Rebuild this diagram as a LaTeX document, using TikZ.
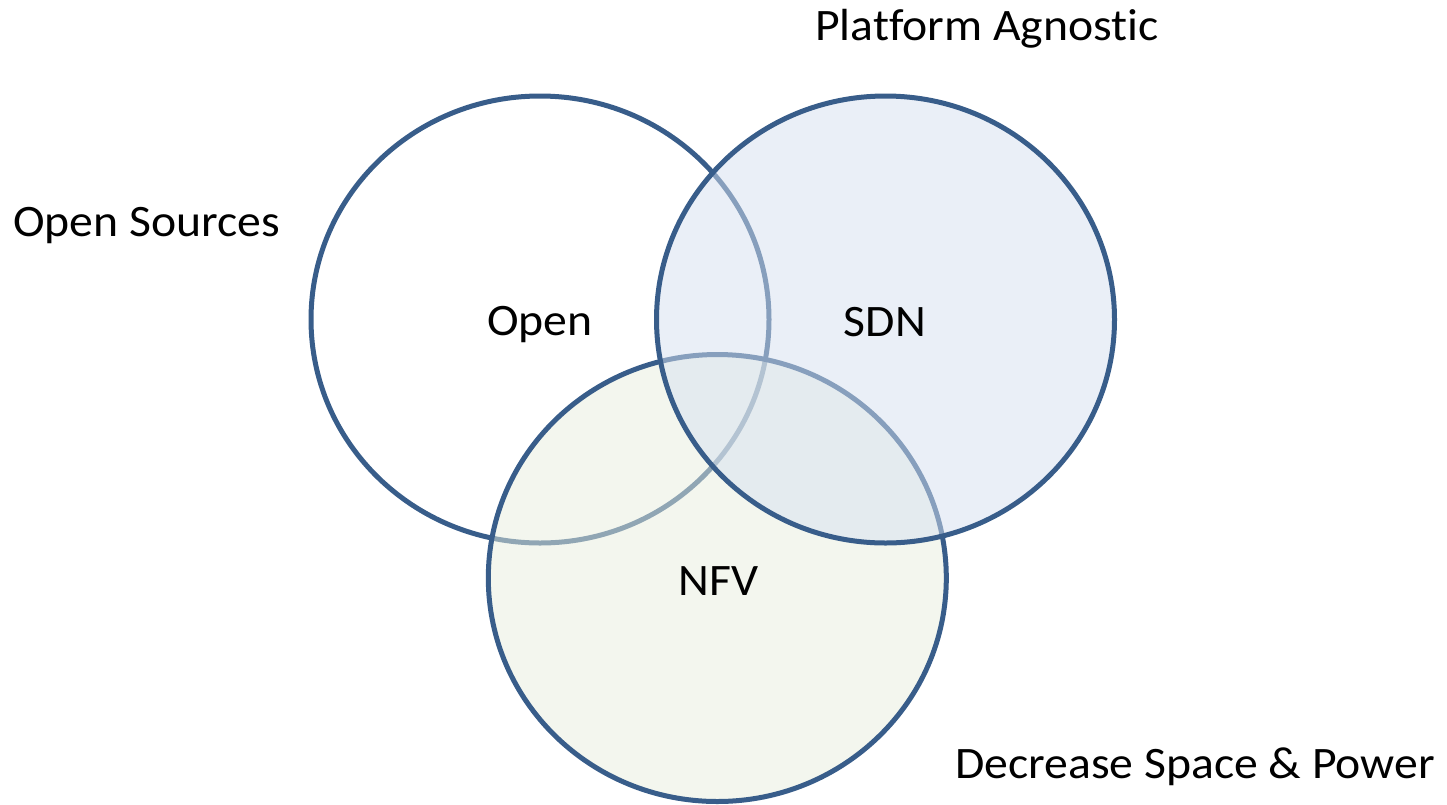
\documentclass[tikz,border=0pt]{standalone}
\usepackage{fontspec}
\setmainfont{Carlito}[Ligatures={NoCommon}]
\usetikzlibrary{shapes.geometric}
\definecolor{vennline}{RGB}{56,93,138}
\definecolor{sdnfill}{RGB}{215,225,240}
\definecolor{nfvfill}{RGB}{233,239,222}
\newcommand{\lbltxt}[1]{\scalebox{1.06}[1]{#1}}
\begin{document}
\begin{tikzpicture}[x=1pt,y=-1pt,
  venn/.style={ellipse, draw=vennline, line width=5pt, fill opacity=0.5,
    minimum width=458pt, minimum height=447pt, inner sep=0pt},
  lbl/.style={font=\fontsize{45}{54}\selectfont, text=black, inner sep=0pt}]
\useasboundingbox[fill=white] (0,0) rectangle (1447,804);
% circles (drawing order: Open, NFV, SDN)
\node[venn, fill=white] (open) at (540,319.5) {};
\node[venn, fill=nfvfill] (nfv) at (717.3,578) {};
\node[venn, fill=sdnfill] (sdn) at (885.5,319.5) {};
% labels inside
\node[lbl, anchor=base] (lopen) at (540,335) {\lbltxt{Open}};
\node[lbl, anchor=base] (lsdn) at (885,336) {\lbltxt{SDN}};
\node[lbl, anchor=base] (lnfv) at (718.5,595) {\lbltxt{NFV}};
% outer labels
\node[lbl, anchor=base west] (lsrc) at (13,236) {\lbltxt{Open Sources}};
\node[lbl, anchor=base west] (lplat) at (815,40) {\lbltxt{Platform Agnostic}};
\node[lbl, anchor=base west] (ldec) at (955,778) {\lbltxt{Decrease Space \& Power}};
\end{tikzpicture}
\end{document}
